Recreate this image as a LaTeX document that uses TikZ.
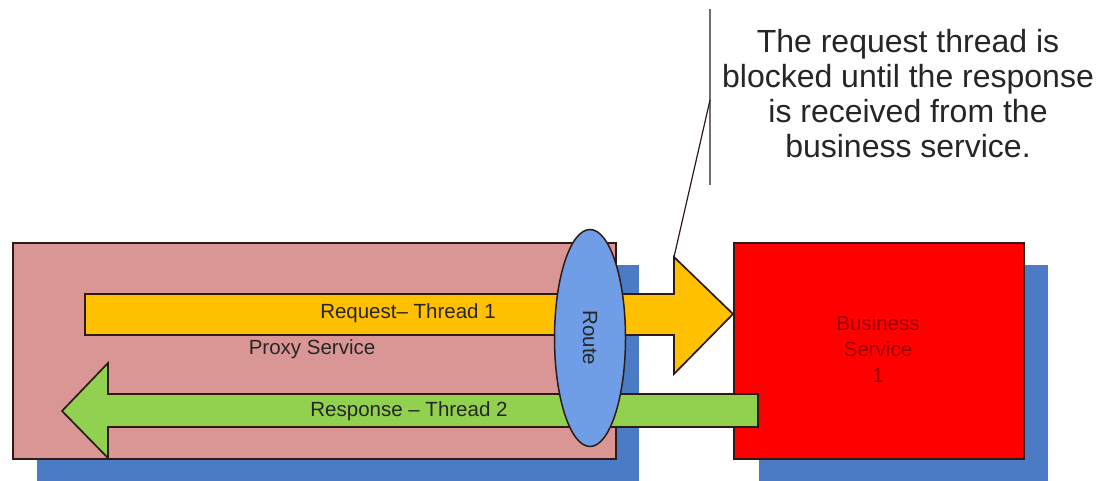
\documentclass[tikz,border=0pt]{standalone}
\usepackage{fontspec}
\setmainfont{Liberation Sans}
\usetikzlibrary{shapes.geometric}

\definecolor{proxypink}{HTML}{D99694}
\definecolor{shadowblue}{HTML}{4A7BC4}
\definecolor{reqyellow}{HTML}{FFC000}
\definecolor{respgreen}{HTML}{92D050}
\definecolor{routeblue}{HTML}{6F9DE6}
\definecolor{bizred}{HTML}{FF0000}
\definecolor{outline}{HTML}{2E1A16}
\definecolor{bizlabel}{HTML}{9A0000}
\definecolor{calloutgray}{HTML}{6E6E6E}

\tikzset{
  shadowbox/.style={fill=shadowblue, draw=none, inner sep=0pt, anchor=north west},
  servicebox/.style={draw=outline, line width=1.7pt, inner sep=0pt, anchor=north west},
  flowarrow/.style={draw=outline, line width=1.7pt, line join=miter},
  label/.style={font=\fontsize{20.5}{24}\selectfont, text=black!85, inner sep=0pt},
}

\begin{document}
\begin{tikzpicture}[x=1pt, y=-1pt]
\useasboundingbox (0,0) rectangle (1099,481);
\fill[white] (0,0) rectangle (1099,481);

% drop shadows behind the two services
\node[shadowbox, minimum width=602pt, minimum height=216pt] (proxyshadow) at (37,265) {};
\node[shadowbox, minimum width=289pt, minimum height=216pt] (bizshadow) at (759,265) {};

% proxy service and business service boxes
\node[servicebox, fill=proxypink, minimum width=603pt, minimum height=216pt] (proxy) at (12,242) {};
\node[servicebox, fill=bizred, minimum width=290pt, minimum height=216pt] (biz) at (733,242) {};

% request arrow (thread 1), pointing into the business service
\draw[flowarrow, fill=reqyellow]
  (85,294) -- (674,294) -- (674,257) coordinate (reqheadtop) -- (733,314) coordinate (reqtip)
  -- (674,374) -- (674,335) -- (85,335) -- cycle;

% response arrow (thread 2), pointing back out of the proxy
\draw[flowarrow, fill=respgreen]
  (758,394) -- (108,394) -- (108,363) -- (62,411) coordinate (resptip)
  -- (108,458) -- (108,427) -- (758,427) -- cycle;

% route stage
\node[ellipse, draw=outline, line width=1.5pt, fill=routeblue, inner sep=0pt,
      minimum width=71pt, minimum height=217pt] (route) at (590,338) {};
\node[label, rotate=-90] (routetext) at (route.center) {Route};

% labels
\node[label] (reqtext) at (408,313) {Request– Thread 1};
\node[label] (proxytext) at (312,349) {Proxy Service};
\node[label] (resptext) at (409,411) {Response – Thread 2};
\node[label, text=bizlabel, align=center, font=\fontsize{20.5}{26}\selectfont] (biztext) at (878,349)
  {Business\\Service\\1};

% callout note
\coordinate (bracktop) at (710,9);
\coordinate (brackbot) at (710,185);
\coordinate (brackmid) at (710,100);
\draw[calloutgray, line width=2.6pt] (bracktop) -- (brackbot);
\draw[outline, line width=1.2pt] (brackmid) -- (reqheadtop);
\node[align=center, inner sep=0pt, text=black!85,
      font=\fontsize{32}{35}\selectfont] (note) at (908,94)
  {The request thread is\\blocked until the response\\is received from the\\business service.};
\end{tikzpicture}
\end{document}
